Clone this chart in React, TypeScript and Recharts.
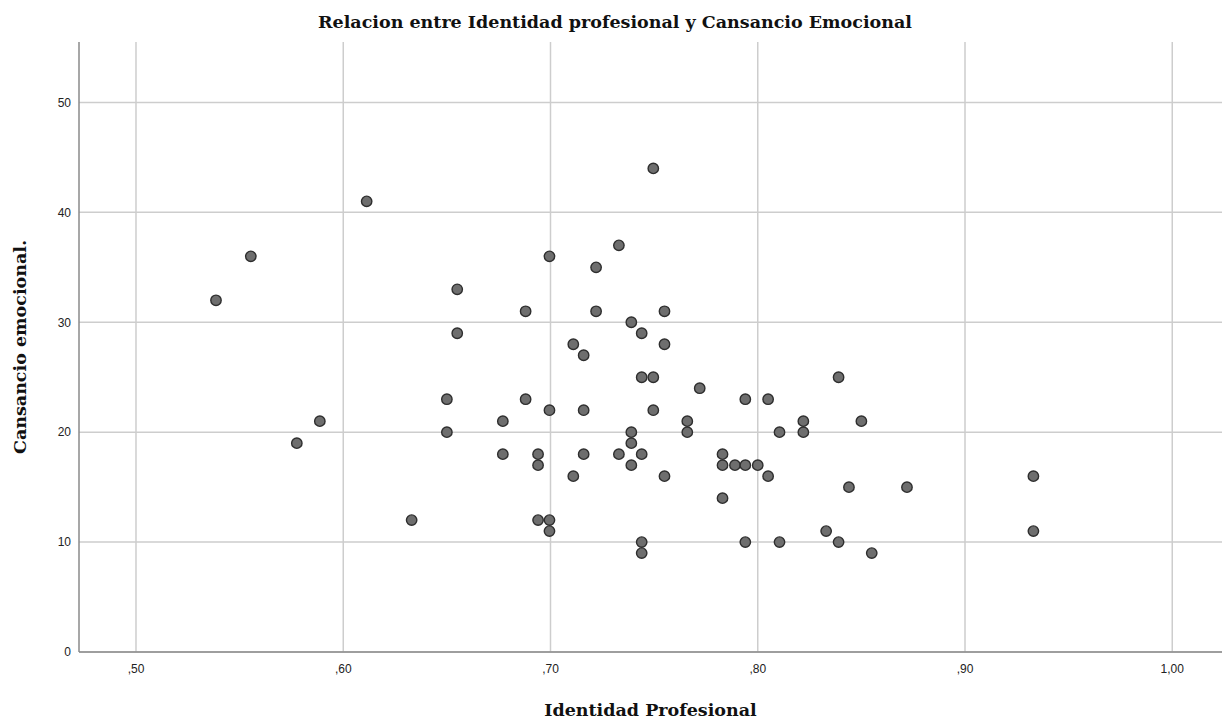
import React from "react";
import {
    ScatterChart,
    Scatter,
    XAxis,
    YAxis,
    CartesianGrid,
    Label
} from "recharts";

/** Identidad profesional per case */
const identidad = [
    0.5386, 0.5554, 0.5776, 0.5887, 0.6113, 0.633, 0.65, 0.65, 0.655, 0.655,
    0.677, 0.677, 0.688, 0.688, 0.694, 0.694, 0.694, 0.6995, 0.6995, 0.6995,
    0.6995, 0.711, 0.711, 0.716, 0.716, 0.716, 0.722, 0.722, 0.733, 0.733,
    0.739, 0.739, 0.739, 0.739, 0.744, 0.744, 0.744, 0.744, 0.744, 0.7496,
    0.7496, 0.7496, 0.755, 0.755, 0.755, 0.772, 0.766, 0.766, 0.783, 0.783,
    0.783, 0.789, 0.794, 0.794, 0.794, 0.8, 0.805, 0.805, 0.8105, 0.8105,
    0.822, 0.822, 0.833, 0.839, 0.839, 0.844, 0.85, 0.855, 0.872, 0.933,
    0.933
];

/** Cansancio emocional per case */
const cansancio = [
    32, 36, 19, 21, 41, 12, 23, 20, 33, 29,
    21, 18, 31, 23, 18, 17, 12, 12, 11, 36,
    22, 16, 28, 27, 22, 18, 35, 31, 37, 18,
    30, 20, 19, 17, 29, 25, 18, 10, 9, 44,
    25, 22, 31, 28, 16, 24, 21, 20, 18, 17,
    14, 17, 23, 17, 10, 17, 23, 16, 20, 10,
    21, 20, 11, 25, 10, 15, 21, 9, 15, 16,
    11
];

const xTicks = [0.5, 0.6, 0.7, 0.8, 0.9, 1.0];
const yTicks = [0, 10, 20, 30, 40, 50];

const data = identidad.map((x, i) => ({ x, y: cansancio[i] }));

/** SPSS style decimal comma, no leading zero */
const formatX = (v: number) => {
    const s = v.toFixed(2).replace(".", ",");
    return s.startsWith("0") ? s.slice(1) : s;
};

const serif = "'DejaVu Serif', 'Liberation Serif', serif";
const sans = "'Liberation Sans', Arial, sans-serif";

const Dot = (props: any) => (
    <circle
        cx={props.cx}
        cy={props.cy}
        r={5.2}
        fill="#6e6e6e"
        stroke="#2e2e2e"
        strokeWidth={1.4}
    />
);

export default function App() {
    return (
        <div
            style={{
                position: "absolute",
                left: 0,
                top: 0,
                width: 1224,
                height: 721,
                background: "#fff"
            }}
        >
            <div
                style={{
                    position: "absolute",
                    top: 12,
                    left: 0,
                    width: 1230,
                    textAlign: "center",
                    fontFamily: serif,
                    fontWeight: "bold",
                    fontSize: 17.5,
                    color: "#111"
                }}
            >
                Relacion entre Identidad profesional y Cansancio Emocional
            </div>
            <ScatterChart
                width={1224}
                height={721}
                margin={{ top: 42, right: 2, left: 0, bottom: 0 }}
            >
                <CartesianGrid
                    stroke="#cdcdcd"
                    strokeWidth={1.5}
                    horizontalValues={yTicks}
                    verticalValues={xTicks}
                />
                <XAxis
                    type="number"
                    dataKey="x"
                    domain={[0.4725, 1.024]}
                    ticks={xTicks}
                    tickFormatter={formatX}
                    allowDataOverflow
                    height={69}
                    tickLine={false}
                    tickMargin={6}
                    stroke="#8a8a8a"
                    strokeWidth={1.5}
                    tick={{ fill: "#222", fontSize: 12, fontFamily: sans }}
                >
                    <Label
                        value="Identidad Profesional"
                        position="insideBottom"
                        offset={5}
                        style={{
                            fontFamily: serif,
                            fontWeight: "bold",
                            fontSize: 17.5,
                            fill: "#111"
                        }}
                    />
                </XAxis>
                <YAxis
                    type="number"
                    dataKey="y"
                    domain={[0, 55.5]}
                    ticks={yTicks}
                    allowDataOverflow
                    width={79}
                    tickLine={false}
                    stroke="#8a8a8a"
                    strokeWidth={1.5}
                    tick={{ fill: "#222", fontSize: 12, fontFamily: sans }}
                >
                    <Label
                        value="Cansancio emocional."
                        angle={-90}
                        position="insideLeft"
                        offset={20}
                        style={{
                            fontFamily: serif,
                            fontWeight: "bold",
                            fontSize: 17.5,
                            fill: "#111",
                            textAnchor: "middle"
                        }}
                    />
                </YAxis>
                <Scatter data={data} shape={Dot} isAnimationActive={false} />
            </ScatterChart>
        </div>
    );
}
